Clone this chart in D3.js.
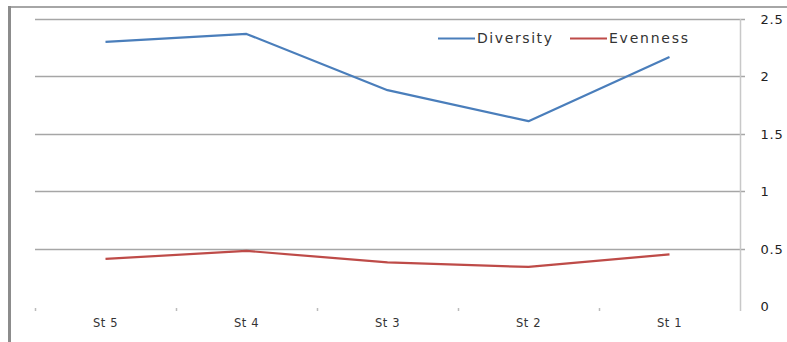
<!DOCTYPE html>
<html>
<head>
<meta charset="utf-8">
<script src="https://cdn.jsdelivr.net/npm/d3@7"></script>
<style>
  html, body { margin: 0; padding: 0; background: #fff; }
  svg { display: block; font-family: "DejaVu Sans", "Liberation Sans", Arial, sans-serif; }
</style>
</head>
<body>
<svg id="chart" width="787" height="342"></svg>
<script>
// Stations along the x axis
const stations = ["St 5", "St 4", "St 3", "St 2", "St 1"];
// Index values per station
const diversity = [2.30, 2.37, 1.88, 1.61, 2.17];
const evenness = [0.41, 0.48, 0.38, 0.34, 0.45];
// Right-hand axis ticks
const yTicks = [0, 0.5, 1, 1.5, 2, 2.5];
const seriesNames = ["Diversity", "Evenness"];
const seriesColors = ["#4a7ebb", "#be4b48"];

const svg = d3.select("#chart");

// Outer frame
svg.append("line").attr("x1", 8).attr("x2", 787).attr("y1", 7).attr("y2", 7)
  .attr("stroke", "#a6a6a6").attr("stroke-width", 2);
svg.append("line").attr("x1", 9.5).attr("x2", 9.5).attr("y1", 6).attr("y2", 342)
  .attr("stroke", "#8c8c8c").attr("stroke-width", 3);

const plot = { left: 35, right: 740, top: 19, bottom: 306 };

const x = d3.scaleBand().domain(stations).range([plot.left, plot.right]).padding(0);
const y = d3.scaleLinear().domain([0, 2.5]).range([plot.bottom, plot.top]);

// Horizontal gridlines (the zero line is not drawn)
svg.append("g").selectAll("line")
  .data(yTicks.filter(d => d > 0))
  .join("line")
  .attr("x1", plot.left).attr("x2", plot.right + 5)
  .attr("y1", d => Math.round(y(d)) + 0.5).attr("y2", d => Math.round(y(d)) + 0.5)
  .attr("stroke", "#a6a6a6").attr("stroke-width", 1.5);

// Right value axis
const yAxis = svg.append("g")
  .attr("transform", `translate(${plot.right + 0.5},0)`)
  .call(d3.axisRight(y).tickValues(yTicks).tickSize(0).tickPadding(20)
    .tickFormat(d => d3.format("")(d)));
yAxis.select(".domain").attr("stroke", "#c8c8c8").attr("stroke-width", 1.5)
  .attr("d", `M0,${plot.top}V${plot.bottom + 5}`);
yAxis.selectAll("text")
  .attr("font-family", "DejaVu Sans, sans-serif")
  .attr("font-size", 13).attr("fill", "#222")
  .attr("letter-spacing", 0.8).attr("dy", "0.35em");

// Category axis: small tick marks at band edges, labels centred
const edges = stations.map(s => x(s)).concat([plot.right]);
svg.append("g").selectAll("line")
  .data(edges.slice(0, -1))
  .join("line")
  .attr("x1", d => d + 0.5).attr("x2", d => d + 0.5)
  .attr("y1", plot.bottom + 2).attr("y2", plot.bottom + 5)
  .attr("stroke", "#bbbbbb").attr("stroke-width", 1.5);
svg.append("g").selectAll("text")
  .data(stations)
  .join("text")
  .attr("x", d => x(d) + x.bandwidth() / 2)
  .attr("y", plot.bottom + 21)
  .attr("text-anchor", "middle")
  .attr("font-size", 11.5)
  .attr("letter-spacing", 0.6)
  .attr("fill", "#333")
  .text(d => d);

// Series lines
const line = d3.line()
  .x((d, i) => x(stations[i]) + x.bandwidth() / 2)
  .y(d => y(d));
[diversity, evenness].forEach((vals, k) => {
  svg.append("path")
    .datum(vals)
    .attr("fill", "none")
    .attr("stroke", seriesColors[k])
    .attr("stroke-width", 2.2)
    .attr("stroke-linejoin", "round")
    .attr("d", line);
});

// Legend
const legendX = [438, 570];
const legendW = [75, 79];
const legend = svg.append("g");
seriesNames.forEach((name, k) => {
  legend.append("line")
    .attr("x1", legendX[k]).attr("x2", legendX[k] + 37)
    .attr("y1", 38.5).attr("y2", 38.5)
    .attr("stroke", seriesColors[k]).attr("stroke-width", 2.2);
  legend.append("text")
    .attr("x", legendX[k] + 39)
    .attr("y", 43)
    .attr("font-size", 14)
    .attr("textLength", legendW[k])
    .attr("lengthAdjust", "spacing")
    .attr("fill", "#333")
    .text(name);
});
</script>
</body>
</html>
